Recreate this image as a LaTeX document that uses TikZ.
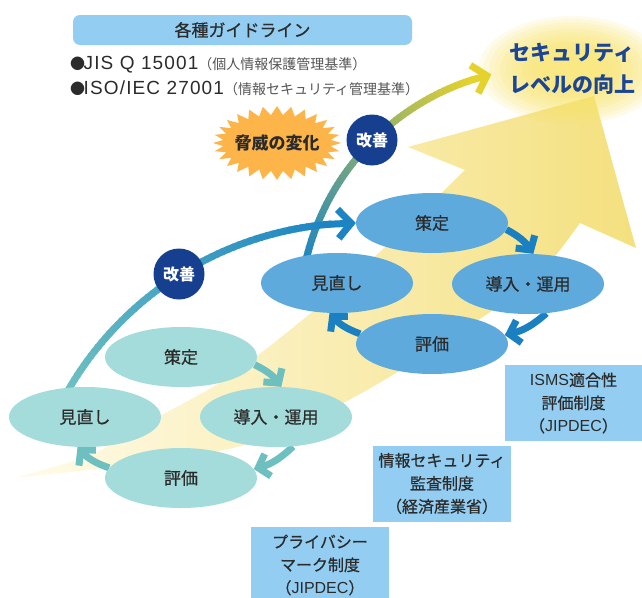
\documentclass[tikz,border=0pt]{standalone}
\usepackage{fontspec}
\setmainfont{Noto Sans CJK JP}
\newfontfamily\lat{Liberation Sans}
\newfontfamily\latw[LetterSpace=6]{Liberation Sans}
\newfontfamily\jpm[FakeBold=0.6]{Noto Sans CJK JP}
\usetikzlibrary{shapes.geometric,arrows.meta}
\pgfdeclarelayer{bg}
\pgfdeclarelayer{mid}
\pgfsetlayers{bg,mid,main}
\definecolor{yelA}{HTML}{FFFBEA}
\definecolor{yelM}{HTML}{FAEDB4}
\definecolor{yelB}{HTML}{F4E07E}
\definecolor{glowc}{HTML}{F7E266}
\definecolor{upfill}{HTML}{5EAADD}
\definecolor{lofill}{HTML}{A4DBDB}
\definecolor{uparr}{HTML}{1B80C1}
\definecolor{loarr}{HTML}{6DBFC0}
\definecolor{boxc}{HTML}{93CEF2}
\definecolor{navy}{HTML}{173F8F}
\definecolor{txtc}{HTML}{2B2B2B}
\definecolor{starc}{HTML}{FDB54A}
\definecolor{titlec}{HTML}{1C4596}
\definecolor{arcA}{HTML}{6EC1C1}
\definecolor{arcB}{HTML}{1C84C3}
\definecolor{arcY}{HTML}{E6D22C}
\definecolor{greyc}{HTML}{555555}
\begin{document}
\begin{tikzpicture}[x=1pt,y=-1pt,
  ell/.style={ellipse, minimum width=152pt, minimum height=60pt, inner sep=0pt, text=txtc, font=\jpm\fontsize{17}{20}\selectfont},
  upell/.style={ell, fill=upfill},
  loell/.style={ell, fill=lofill},
  cycarrow/.style={line width=7pt, -{Straight Barb[length=10pt,width=23pt]}},
  uparrow/.style={cycarrow, draw=uparr},
  loarrow/.style={cycarrow, draw=loarr},
  kaizen/.style={circle, fill=navy, minimum size=51pt, inner sep=0pt, text=white, font=\bfseries\fontsize{16}{18}\selectfont},
  infobox/.style={rectangle, fill=boxc, minimum width=138pt, minimum height=76pt, inner sep=0pt, align=center, text=txtc, font=\jpm\fontsize{16}{23}\selectfont},
  bigarc/.style={line width=7pt},
]
\useasboundingbox (0,0) rectangle (642,597);

% ---------- background: big yellow arrow and glow ----------
\begin{pgfonlayer}{bg}
\shade[left color=yelA, middle color=yelM, right color=yelB]
  plot[smooth] coordinates {(13,478) (90,455) (160,416) (230,376) (323,303) (400,233) (465,170)}
  -- (408,147) -- (594,96) -- (636,248) -- (580,223)
  -- plot[smooth] coordinates {(580,223) (545,268) (500,305) (430,352) (360,394) (300,424) (233,448) (120,466) (13,478)}
  -- cycle;
\foreach \s in {0,...,11}{
  \fill[glowc, fill opacity=0.13] (572,70) ellipse [x radius={94-5.5*\s}, y radius={54-3.2*\s}];
}
\end{pgfonlayer}

% ---------- title & guidelines ----------
\node[rectangle, rounded corners=7pt, fill=boxc, minimum width=339pt, minimum height=30pt, inner sep=0pt, text=txtc, font=\jpm\fontsize{17}{20}\selectfont] (title) at (242.5,30) {各種ガイドライン};
\node[anchor=west, inner sep=0pt, text=txtc] (jis1) at (70,65) {{\fontsize{15}{16}\selectfont ●}\kern-1.5pt{\fontsize{19}{22}\selectfont\latw JIS Q 15001}{\fontsize{14}{16}\selectfont\color{greyc}（個人情報保護管理基準）}};
\node[anchor=west, inner sep=0pt, text=txtc] (jis2) at (70,88) {{\fontsize{15}{16}\selectfont ●}\kern-1.5pt{\fontsize{19}{22}\selectfont\latw ISO/IEC 27001}{\fontsize{14}{16}\selectfont\color{greyc}（情報セキュリティ管理基準）}};

\node[align=center, text=titlec, font=\bfseries\fontsize{21}{32}\selectfont] (goal) at (572,69) {セキュリティ\\レベルの向上};

% ---------- starburst ----------
\fill[starc] (341,143) \foreach \k in {1,...,55}{
  -- ({277+(64-10*mod(\k,2))*cos(\k*6.4285714)},{143+(37-9*mod(\k,2))*sin(\k*6.4285714)}) } -- cycle;
\node[text=txtc, font=\bfseries\fontsize{17}{20}\selectfont] (threat) at (277,143) {脅威の変化};

% ---------- cycles ----------
\node[upell] (S1) at (432,223) {策定};
\node[upell] (D1) at (528,284) {導入・運用};
\node[upell] (E1) at (432,344) {評価};
\node[upell] (M1) at (337,283) {見直し};
\node[loell] (S2) at (181,357) {策定};
\node[loell] (D2) at (276,417) {導入・運用};
\node[loell] (E2) at (181,478) {評価};
\node[loell] (M2) at (85,417) {見直し};

\node[kaizen] (K1) at (372,140) {改善};
\node[kaizen] (K2) at (179,274) {改善};

% ---------- boxes ----------
\node[infobox] (isms) at (573.5,403) {{\lat ISMS}適合性\\評価制度\\（{\lat JIPDEC}）};
\node[infobox] (audit) at (442,483.5) {情報セキュリティ\\監査制度\\（経済産業省）};
\node[infobox] (pmark) at (320,565) {プライバシー\\マーク制度\\（{\lat JIPDEC}）};

% ---------- connectors ----------
\begin{pgfonlayer}{mid}
% arc from upper review to the goal (blue -> yellow)
\foreach \i in {0,...,59}{
  \pgfmathsetmacro{\ta}{192+\i}
  \pgfmathsetmacro{\tb}{193.3+\i}
  \pgfmathtruncatemacro{\p}{100*\i/59}
  \draw[bigarc, color=arcY!\p!arcB] ({549.3+250*cos(\ta)},{317.6+250*sin(\ta)}) -- ({549.3+250*cos(\tb)},{317.6+250*sin(\tb)});
}
\coordinate (g1) at ({549.3+250*cos(251.8)},{317.6+250*sin(251.8)});
\coordinate (g2) at ({549.3+250*cos(256.6)},{317.6+250*sin(256.6)});
\draw[bigarc, draw=arcY, -{Straight Barb[length=13pt,width=29pt]}] (g1) -- (g2);
% arc from lower review to upper plan (teal -> blue)
\foreach \i in {0,...,55}{
  \pgfmathsetmacro{\ta}{209+\i}
  \pgfmathsetmacro{\tb}{210.3+\i}
  \pgfmathtruncatemacro{\p}{100*\i/55}
  \draw[bigarc, color=arcB!\p!arcA] ({358.6+335.8*cos(\ta)},{558.7+335.8*sin(\ta)}) -- ({358.6+335.8*cos(\tb)},{558.7+335.8*sin(\tb)});
}
\coordinate (h1) at ({358.6+335.8*cos(264.8)},{558.7+335.8*sin(264.8)});
\draw[bigarc, draw=arcB, -{Straight Barb[length=13pt,width=29pt]}] (h1) -- (S1.west);

\draw[uparrow] (S1.-5) to[bend left=14] (D1.80);
\draw[uparrow] (D1.-58) to[bend left=14] (E1.7);
\draw[uparrow] (E1.172) to[bend left=14] (M1.-104);
\draw[loarrow] (S2.-6) to[bend left=14] (D2.80);
\draw[loarrow] (D2.-60) to[bend left=14] (E2.7);
\draw[loarrow] (E2.172) to[bend left=14] (M2.-104);
\end{pgfonlayer}
\end{tikzpicture}
\end{document}
